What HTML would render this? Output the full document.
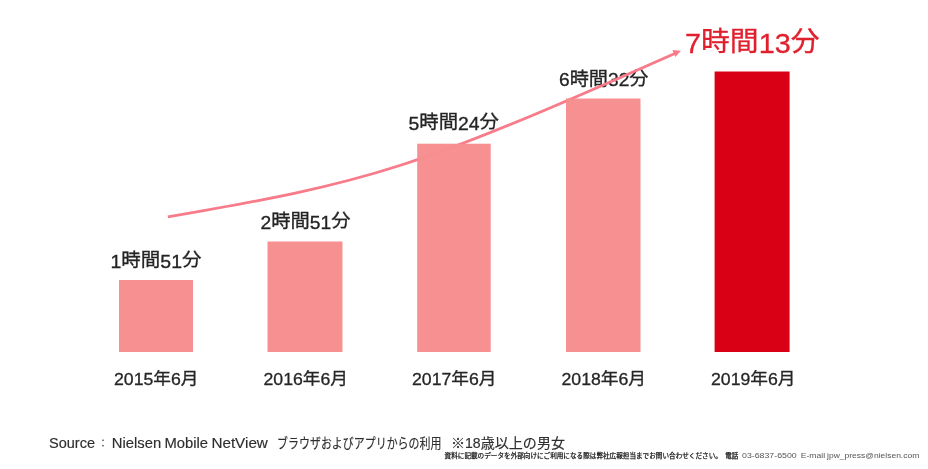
<!DOCTYPE html>
<html lang="ja">
<head>
<meta charset="utf-8">
<title>Chart</title>
<style>
  html, body { margin: 0; padding: 0; background: #ffffff; }
  body { width: 928px; height: 469px; overflow: hidden; }
  svg { display: block; filter: blur(0.55px); }
  .lbl { font-family: "Liberation Sans", "Noto Sans CJK JP", sans-serif; font-size: 18.5px; fill: #242424; stroke: #242424; stroke-width: 0.32px; }
  .big { font-family: "Liberation Sans", "Noto Sans CJK JP", sans-serif; font-size: 27.5px; fill: #e0202e; stroke: #e0202e; stroke-width: 0.3px; }
  .yr  { font-family: "Liberation Sans", "Noto Sans CJK JP", sans-serif; font-size: 16px; fill: #262626; stroke: #262626; stroke-width: 0.28px; }
  .src { font-family: "Liberation Sans", "Noto Sans CJK JP", sans-serif; font-size: 14px; fill: #2e2e2e; stroke: #2e2e2e; stroke-width: 0.15px; }
  .tiny { font-family: "Liberation Sans", "Noto Sans CJK JP", sans-serif; font-size: 7.2px; fill: #555555; }
  .tj { font-size: 6.6px; fill: #1c1c1c; stroke: #1c1c1c; stroke-width: 0.25px; }
</style>
</head>
<body>
<svg width="928" height="469" viewBox="0 0 928 469">
  <rect x="0" y="0" width="928" height="469" fill="#ffffff"/>

  <!-- value labels -->
  <text class="lbl" x="110.5" y="267.5" textLength="91" lengthAdjust="spacingAndGlyphs">1<tspan dy="-1.4">時間</tspan><tspan dy="1.4">51</tspan><tspan dy="-1.4">分</tspan></text>
  <text class="lbl" x="260.5" y="228.5" textLength="90" lengthAdjust="spacingAndGlyphs">2<tspan dy="-1.4">時間</tspan><tspan dy="1.4">51</tspan><tspan dy="-1.4">分</tspan></text>
  <text class="lbl" x="408.5" y="129.5" textLength="90.5" lengthAdjust="spacingAndGlyphs">5<tspan dy="-1.4">時間</tspan><tspan dy="1.4">24</tspan><tspan dy="-1.4">分</tspan></text>
  <text class="lbl" x="559" y="86" textLength="89.5" lengthAdjust="spacingAndGlyphs">6<tspan dy="-1.4">時間</tspan><tspan dy="1.4">32</tspan><tspan dy="-1.4">分</tspan></text>
  <text class="big" x="685" y="52.5" textLength="134.5" lengthAdjust="spacingAndGlyphs">7<tspan dy="-1.3">時間</tspan><tspan dy="1.3">13</tspan><tspan dy="-1.3">分</tspan></text>

  <!-- trend curve (over labels, behind bars) -->
  <path d="M167.9 216.9 C372.2 181.8 413.0 169.6 674.8 53.4" fill="none" stroke="#f97b8a" stroke-width="2.7" stroke-linecap="butt"/>
  <polygon points="680.9,50.7 672.4,50 675.4,57" fill="#f97b8a"/>

  <!-- bars -->
  <rect x="119" y="280" width="74" height="72" fill="#f79090"/>
  <rect x="267.5" y="241.5" width="75" height="110.5" fill="#f79090"/>
  <rect x="417.2" y="143.7" width="73.5" height="208.3" fill="#f79090"/>
  <rect x="566" y="98.5" width="74.5" height="253.5" fill="#f79090"/>
  <rect x="714.6" y="71.5" width="75" height="280.5" fill="#d90016"/>

  <!-- faint trace of curve over bars -->
  <path d="M167.9 216.9 C372.2 181.8 413.0 169.6 674.8 53.4" fill="none" stroke="#f97b8a" stroke-width="2.7" stroke-linecap="butt" opacity="0.12"/>

  <!-- year labels -->
  <text class="yr" x="114" y="384.9" textLength="84.5" lengthAdjust="spacingAndGlyphs">2015<tspan dy="-1">年</tspan><tspan dy="1">6</tspan><tspan dy="-1">月</tspan></text>
  <text class="yr" x="263.5" y="384.9" textLength="84.5" lengthAdjust="spacingAndGlyphs">2016<tspan dy="-1">年</tspan><tspan dy="1">6</tspan><tspan dy="-1">月</tspan></text>
  <text class="yr" x="412" y="384.9" textLength="84.5" lengthAdjust="spacingAndGlyphs">2017<tspan dy="-1">年</tspan><tspan dy="1">6</tspan><tspan dy="-1">月</tspan></text>
  <text class="yr" x="561.5" y="384.9" textLength="84.5" lengthAdjust="spacingAndGlyphs">2018<tspan dy="-1">年</tspan><tspan dy="1">6</tspan><tspan dy="-1">月</tspan></text>
  <text class="yr" x="711" y="384.9" textLength="84.5" lengthAdjust="spacingAndGlyphs">2019<tspan dy="-1">年</tspan><tspan dy="1">6</tspan><tspan dy="-1">月</tspan></text>

  <!-- source -->
  <text class="src" y="448"><tspan x="49" textLength="46" lengthAdjust="spacingAndGlyphs">Source</tspan><tspan x="98" dy="-0.6" font-size="10">：</tspan><tspan x="111.8" dy="0.6" textLength="49.4" lengthAdjust="spacingAndGlyphs">Nielsen</tspan> <tspan x="164.5" textLength="43.6" lengthAdjust="spacingAndGlyphs">Mobile</tspan> <tspan x="211.4" textLength="56.5" lengthAdjust="spacingAndGlyphs">NetView</tspan> <tspan x="277.1" textLength="164.3" lengthAdjust="spacingAndGlyphs">ブラウザおよびアプリからの利用</tspan> <tspan x="451" textLength="114" lengthAdjust="spacingAndGlyphs">※18歳以上の男女</tspan></text>
  <text class="tiny" y="458.3"><tspan class="tj" x="444.6" textLength="277.3" lengthAdjust="spacingAndGlyphs">資料に記載のデータを外部向けにご利用になる際は弊社広報担当までお問い合わせください。</tspan> <tspan class="tj" x="725.3" textLength="13" lengthAdjust="spacingAndGlyphs">電話</tspan> <tspan x="742" textLength="54.7" lengthAdjust="spacingAndGlyphs">03-6837-6500</tspan> <tspan x="800.8" textLength="24.3" lengthAdjust="spacingAndGlyphs">E-mail</tspan> <tspan x="827.1" textLength="92.2" lengthAdjust="spacingAndGlyphs">jpw_press@nielsen.com</tspan></text>
</svg>
</body>
</html>
